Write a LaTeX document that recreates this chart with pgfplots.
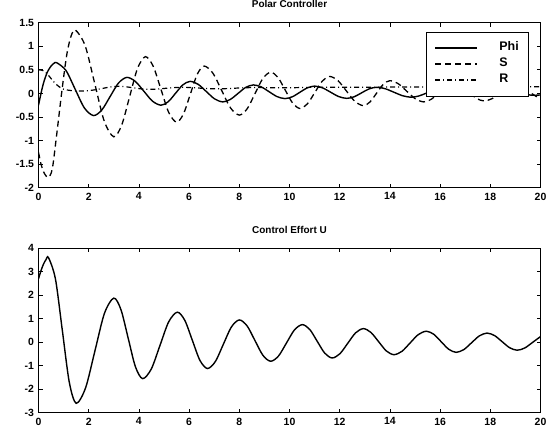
\documentclass[border=0pt]{standalone}
\usepackage{pgfplots}
\pgfplotsset{compat=1.18}
\usepackage{fontspec}
\setmainfont{Liberation Sans}
\begin{document}
\begin{tikzpicture}
\path[use as bounding box] (0bp,0bp) rectangle (550bp,431bp);
\pgfplotsset{
  every axis/.append style={
    scale only axis, width=502bp,
    xmin=0, xmax=20, xtick={0,2,...,20},
    tick align=inside, major tick length=4bp,
    axis line style={line width=1bp},
    every tick/.style={line width=0.8bp, black},
    tick label style={font=\bfseries\fontsize{10.5}{12}\selectfont},
    xticklabel style={yshift=-1.5bp},
    yticklabel style={xshift=-1bp},
    /pgf/number format/assume math mode=true,
    title style={font=\bfseries\fontsize{10}{12}\selectfont, at={(0.5,1)}, anchor=base, yshift=9bp},
  },
  phi/.style={black, line width=1.4bp, smooth},
  sst/.style={black, line width=1.3bp, smooth, dash pattern=on 6bp off 4bp},
  rst/.style={black, line width=1.2bp, smooth, dash pattern=on 5bp off 3bp on 1bp off 3bp},
}
\begin{axis}[
  at={(38.5bp,243.3bp)}, anchor=south west, height=165bp,
  ymin=-2, ymax=1.5,
  ytick={-2,-1.5,-1,-0.5,0,0.5,1,1.5},
  yticklabels={-2,-1.5,-1,-0.5,0,0.5,1,1.5},
  title={Polar Controller},
  legend style={at={(0.975,0.945)}, anchor=north east, draw=black, fill=white,
    inner xsep=8bp, inner ysep=9bp, row sep=2bp,
    nodes={font=\bfseries\fontsize{12.5}{14}\selectfont, inner sep=1bp, text height=9bp, text depth=3bp}},
  legend cell align=left,
  legend image code/.code={\draw[#1] (0bp,0bp) -- (42bp,0bp); \path[draw=none] (42bp,0bp) -- (63bp,0bp);},
]
\addplot[phi] coordinates {
(0,-0.25) (0.1,0.0) (0.2,0.22) (0.35,0.45) (0.5,0.58) (0.62,0.64) (0.73,0.65)
(1.095,0.486) (1.46,0.09) (1.825,-0.306) (2.19,-0.47)
(2.523,-0.351) (2.855,-0.065) (3.188,0.221) (3.52,0.34)
(3.86,0.254) (4.2,0.045) (4.54,-0.164) (4.88,-0.25)
(5.17,-0.176) (5.46,0.003) (5.75,0.181) (6.04,0.255)
(6.365,0.191) (6.69,0.038) (7.015,-0.116) (7.34,-0.18)
(7.645,-0.127) (7.95,0) (8.255,0.127) (8.56,0.18)
(8.875,0.138) (9.19,0.035) (9.505,-0.068) (9.82,-0.11)
(10.115,-0.071) (10.41,0.023) (10.705,0.116) (11.0,0.155)
(11.32,0.117) (11.64,0.025) (11.96,-0.067) (12.28,-0.105)
(12.578,-0.071) (12.875,0.013) (13.173,0.096) (13.47,0.13)
(13.815,0.099) (14.16,0.025) (14.505,-0.049) (14.85,-0.08)
(15.15,-0.055) (15.45,0.005) (15.75,0.065) (16.05,0.09)
(16.35,0.068) (16.65,0.015) (16.95,-0.038) (17.25,-0.06)
(17.563,-0.042) (17.875,0) (18.188,0.042) (18.5,0.06)
(18.813,0.045) (19.125,0.01) (19.438,-0.025) (19.75,-0.04) (20,-0.032)
};
\addlegendentry{Phi\hspace{2bp}}
\addplot[sst] coordinates {
(0,-1.25) (0.1,-1.5) (0.2,-1.66) (0.3,-1.75) (0.4,-1.78) (0.55,-1.6) (0.73,-0.85) (0.92,0.0) (1.12,0.8) (1.3,1.22) (1.48,1.34)
(1.86,1.01) (2.24,0.21) (2.62,-0.59) (3.0,-0.92)
(3.315,-0.671) (3.63,-0.07) (3.945,0.531) (4.26,0.78)
(4.57,0.576) (4.88,0.085) (5.19,-0.406) (5.5,-0.61)
(5.775,-0.436) (6.05,-0.015) (6.325,0.406) (6.6,0.58)
(6.95,0.428) (7.3,0.06) (7.65,-0.308) (8.0,-0.46)
(8.313,-0.327) (8.625,-0.005) (8.938,0.317) (9.25,0.45)
(9.543,0.337) (9.835,0.065) (10.128,-0.207) (10.42,-0.32)
(10.715,-0.22) (11.01,0.02) (11.305,0.26) (11.6,0.36)
(11.935,0.269) (12.27,0.05) (12.605,-0.169) (12.94,-0.26)
(13.205,-0.182) (13.47,0.005) (13.735,0.192) (14.0,0.27)
(14.338,0.204) (14.675,0.045) (15.013,-0.114) (15.35,-0.18)
(15.65,-0.123) (15.95,0.015) (16.25,0.153) (16.55,0.21)
(16.85,0.156) (17.15,0.025) (17.45,-0.106) (17.75,-0.16)
(18.063,-0.113) (18.375,0) (18.688,0.113) (19.0,0.16)
(19.3,0.118) (19.6,0.015) (19.9,-0.088) (20,-0.11)
};
\addlegendentry{S}
\addplot[rst] coordinates {
(0,0.5) (0.15,0.49) (0.3,0.44) (0.45,0.35) (0.6,0.25) (0.8,0.15) (1.0,0.09) (1.3,0.06) (1.7,0.05) (2.1,0.065) (2.5,0.1) (2.9,0.14) (3.3,0.15) (3.7,0.125) (4.2,0.09) (4.7,0.09) (5.2,0.115) (5.7,0.13) (6.2,0.12) (6.8,0.1) (7.4,0.1) (8.0,0.115) (8.6,0.125) (9.2,0.12) (10,0.12) (11,0.13) (12,0.13) (13,0.13) (14,0.135) (15,0.135) (16,0.138) (17,0.14) (18,0.14) (19,0.14) (20,0.14)
};
\addlegendentry{R}
\end{axis}
\begin{axis}[
  at={(38.5bp,18.3bp)}, anchor=south west, height=164.4bp,
  ymin=-3, ymax=4,
  ytick={-3,-2,-1,0,1,2,3,4},
  yticklabels={-3,-2,-1,0,1,2,3,4},
  title={Control Effort U},
]
\addplot[phi] coordinates {
(0,2.70) (0.1,3.05) (0.2,3.33) (0.3,3.52) (0.4,3.60)
(0.675,2.692) (0.95,0.5) (1.225,-1.692) (1.5,-2.6)
(1.875,-1.944) (2.25,-0.36) (2.625,1.224) (3.0,1.88)
(3.2875,1.378) (3.575,0.165) (3.8625,-1.048) (4.15,-1.55)
(4.495,-1.136) (4.84,-0.135) (5.185,0.866) (5.53,1.28)
(5.83,0.929) (6.13,0.08) (6.43,-0.769) (6.73,-1.12)
(7.048,-0.817) (7.365,-0.085) (7.683,0.647) (8.0,0.95)
(8.313,0.692) (8.625,0.07) (8.938,-0.552) (9.25,-0.81)
(9.565,-0.582) (9.88,-0.03) (10.195,0.522) (10.51,0.75)
(10.808,0.542) (11.105,0.04) (11.403,-0.462) (11.7,-0.67)
(12.01,-0.487) (12.32,-0.045) (12.63,0.397) (12.94,0.58)
(13.245,0.417) (13.55,0.025) (13.855,-0.367) (14.16,-0.53)
(14.483,-0.384) (14.805,-0.03) (15.128,0.324) (15.45,0.47)
(15.748,0.338) (16.045,0.02) (16.343,-0.298) (16.64,-0.43)
(16.948,-0.31) (17.255,-0.02) (17.563,0.27) (17.87,0.39)
(18.17,0.283) (18.47,0.025) (18.77,-0.233) (19.07,-0.34)
(19.378,-0.242) (19.685,-0.005) (20,0.24)
};
\end{axis}
\end{tikzpicture}
\end{document}
